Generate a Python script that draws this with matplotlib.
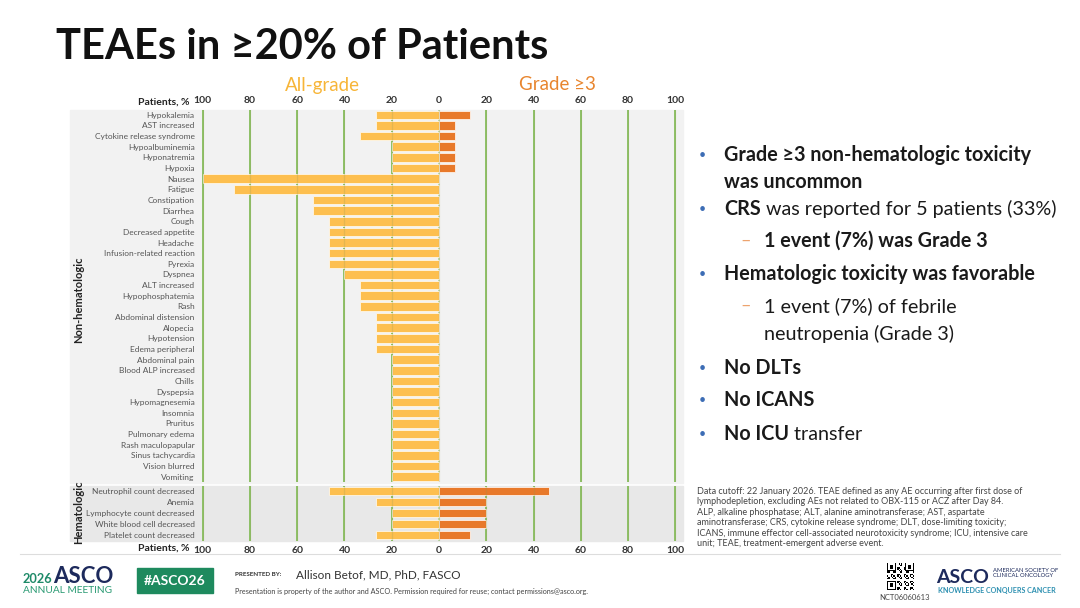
import matplotlib
matplotlib.use("Agg")
import matplotlib.pyplot as plt
from matplotlib.patches import Rectangle
import numpy as np

plt.rcParams['font.family'] = ['Lato', 'DejaVu Sans']

# ---- data (percent of patients, N=15) ----
nonhem_terms = ['Hypokalemia', 'AST increased', 'Cytokine release syndrome', 'Hypoalbuminemia',
                'Hyponatremia', 'Hypoxia', 'Nausea', 'Fatigue', 'Constipation', 'Diarrhea',
                'Cough', 'Decreased appetite', 'Headache', 'Infusion-related reaction', 'Pyrexia',
                'Dyspnea', 'ALT increased', 'Hypophosphatemia', 'Rash', 'Abdominal distension',
                'Alopecia', 'Hypotension', 'Edema peripheral', 'Abdominal pain',
                'Blood ALP increased', 'Chills', 'Dyspepsia', 'Hypomagnesemia', 'Insomnia',
                'Pruritus', 'Pulmonary edema', 'Rash maculopapular', 'Sinus tachycardia',
                'Vision blurred', 'Vomiting']
nonhem_all = [26.7, 26.7, 33.3, 20, 20, 20, 100, 86.7, 53.3, 53.3,
              46.7, 46.7, 46.7, 46.7, 46.7, 40, 33.3, 33.3, 33.3, 26.7,
              26.7, 26.7, 26.7, 20, 20, 20, 20, 20, 20, 20, 20, 20, 20, 20, 20]
nonhem_g3 = [13.3, 6.7, 6.7, 6.7, 6.7, 6.7, 0, 0, 0, 0,
             0, 0, 0, 0, 0, 0, 0, 0, 0, 0,
             0, 0, 0, 0, 0, 0, 0, 0, 0, 0, 0, 0, 0, 0, 0]

hem_terms = ['Neutrophil count decreased', 'Anemia', 'Lymphocyte count decreased',
             'White blood cell decreased', 'Platelet count decreased']
hem_all = [46.7, 26.7, 20, 20, 26.7]
hem_g3 = [46.7, 20, 20, 20, 13.3]

tick_vals = [-100, -80, -60, -40, -20, 0, 20, 40, 60, 80, 100]

YELLOW = '#FDBF4F'
ORANGE = '#E8792A'
GREEN = '#86BE5C'
W, H = 1080, 608


def fx(x):
    return x / W


def fy(y):
    return 1 - y / H


fig = plt.figure(figsize=(10.8, 6.08), dpi=100)
fig.patch.set_facecolor('white')

# panel backgrounds (behind the axes)
fig.patches.append(Rectangle((fx(70), fy(483)), fx(683) - fx(70), fy(110) - fy(483),
                             transform=fig.transFigure, color='#F2F2F2', zorder=-5))
fig.patches.append(Rectangle((fx(70), fy(541)), fx(683) - fx(70), fy(486) - fy(541),
                             transform=fig.transFigure, color='#E8E8E8', zorder=-5))

# x from -102 to 102 so that the outer gridlines are not clipped
left = fx(198)
width = fx(680) - left
ax1 = fig.add_axes([left, fy(482), width, fy(109.5) - fy(482)])
ax2 = fig.add_axes([left, fy(540.5), width, fy(485.5) - fy(540.5)])

for ax, terms, a, g in [(ax1, nonhem_terms, nonhem_all, nonhem_g3),
                        (ax2, hem_terms, hem_all, hem_g3)]:
    ax.set_facecolor('none')
    y = np.arange(len(terms))
    for t in tick_vals:
        ax.axvline(t, color=GREEN if t != 0 else '#B9D7A3', lw=1.3, zorder=1)
        # faint line showing through the bars
        ax.axvline(t, color='#8A9A50', lw=0.9, alpha=0.22, zorder=3)
    ax.barh(y, -np.array(a), height=0.8, color=YELLOW, edgecolor='#FFF6E6', lw=0.6, zorder=2)
    ax.barh(y, g, height=0.8, color=ORANGE, edgecolor='#FFF0E6', lw=0.6, zorder=2)
    ax.set_xlim(-102, 102)
    ax.set_ylim(len(terms) - 0.5, -0.5)
    ax.set_yticks(y)
    ax.set_yticklabels(terms, fontsize=6.0, color='#555555')
    ax.set_xticks(tick_vals)
    ax.set_xticklabels([str(abs(t)) for t in tick_vals], fontsize=7.5,
                       fontweight='bold', color='#333333')
    ax.tick_params(length=0, pad=4)
    ax.tick_params(axis='y', pad=2.5)
    for s in ax.spines.values():
        s.set_visible(False)

ax1.xaxis.tick_top()
ax1.tick_params(axis='x', pad=3)

# axis captions
for yy in (102, 548):
    fig.text(fx(189), fy(yy), 'Patients, %', ha='right', va='center', fontsize=7.5,
             fontweight='bold', color='#222222')

fig.text(fx(79), fy(300), 'Non-hematologic', rotation=90, ha='center', va='center',
         fontsize=8, fontweight='bold', color='#222222')
fig.text(fx(79), fy(512), 'Hematologic', rotation=90, ha='center', va='center',
         fontsize=8, fontweight='bold', color='#222222')

# headers
fig.text(fx(322), fy(85), 'All-grade', ha='center', va='center', fontsize=13.5,
         color='#F7B538')
fig.text(fx(557), fy(85), 'Grade ≥3', ha='center', va='center', fontsize=13.5,
         color='#E8852E')

# title
fig.text(fx(56), fy(47), 'TEAEs in ≥20% of Patients', ha='left', va='center',
         fontsize=30, fontweight='bold', color='#111111')

# bullet text
BLUE = '#3D6DB5'
tsize = 14.2


def bullet(y, parts, x=724, dot=True, dash=False):
    if dot:
        fig.text(fx(702), fy(y), '•', ha='center', va='center', fontsize=9, color=BLUE)
    if dash:
        fig.text(fx(746), fy(y), '–', ha='center', va='center', fontsize=13, color='#EDA36E')
    xx = x
    for txt, bold in parts:
        t = fig.text(fx(xx), fy(y), txt, ha='left', va='center', fontsize=tsize,
                     fontweight='bold' if bold else 'normal', color='#1a1a1a')
        fig.canvas.draw()
        xx += t.get_window_extent().width


bullet(155, [('Grade ≥3 non-hematologic toxicity', True)])
bullet(182, [('was uncommon', True)], dot=False)
bullet(209, [('CRS', True), (' was reported for 5 patients (33%)', False)])
bullet(241, [('1 event (7%) was Grade 3', True)], x=764, dot=False, dash=True)
bullet(274, [('Hematologic toxicity was favorable', True)])
bullet(306, [('1 event (7%) of febrile', False)], x=764, dot=False, dash=True)
bullet(334, [('neutropenia (Grade 3)', False)], x=764, dot=False)
bullet(368, [('No DLTs', True)])
bullet(400, [('No ICANS', True)])
bullet(434, [('No ICU', True), (' transfer', False)])

foot = ("Data cutoff: 22 January 2026. TEAE defined as any AE occurring after first dose of\n"
        "lymphodepletion, excluding AEs not related to OBX-115 or ACZ after Day 84.\n"
        "ALP, alkaline phosphatase; ALT, alanine aminotransferase; AST, aspartate\n"
        "aminotransferase; CRS, cytokine release syndrome; DLT, dose-limiting toxicity;\n"
        "ICANS, immune effector cell-associated neurotoxicity syndrome; ICU, intensive care\n"
        "unit; TEAE, treatment-emergent adverse event.")
fig.text(fx(697), fy(487), foot, ha='left', va='top', fontsize=6.5, color='#444444',
         linespacing=1.2)

# footer
fig.add_artist(plt.Line2D([fx(20), fx(1060)], [fy(554), fy(554)], color='#DDDDDD', lw=0.8,
                          transform=fig.transFigure))
fig.text(fx(23), fy(583), '2026', ha='left', va='baseline', fontsize=9.2, fontweight='bold',
         color='#1E8A68')
fig.text(fx(53), fy(583), 'ASCO', ha='left', va='baseline', fontsize=16, fontweight='bold',
         color='#1D2A5C')
fig.text(fx(23), fy(593), 'ANNUAL MEETING', ha='left', va='baseline', fontsize=7.3,
         color='#2A9A73')
fig.patches.append(Rectangle((fx(137), fy(593)), fx(213) - fx(137), fy(568) - fy(593),
                             transform=fig.transFigure, color='#1E8A5E', zorder=-5))
fig.text(fx(175), fy(581), '#ASCO26', ha='center', va='center', fontsize=10,
         fontweight='bold', color='white')
fig.text(fx(235), fy(575), 'PRESENTED BY:', ha='left', va='center', fontsize=4.5,
         fontweight='bold', color='#333333')
fig.text(fx(296), fy(575), 'Allison Betof, MD, PhD, FASCO', ha='left', va='center',
         fontsize=8.5, color='#333333')
fig.text(fx(235), fy(591), 'Presentation is property of the author and ASCO. Permission '
         'required for reuse; contact permissions@asco.org.', ha='left', va='center',
         fontsize=5.2, color='#444444')

# QR placeholder
qr_ax = fig.add_axes([fx(887), fy(590), fx(914) - fx(887), fy(562) - fy(590)])
ii, jj = np.meshgrid(np.arange(21), np.arange(21))
qr = ((ii * 7 + jj * 3 + ii * jj) % 5 < 2).astype(float)
for (r, c) in [(0, 0), (0, 14), (14, 0)]:
    qr[r:r + 7, c:c + 7] = 1
    qr[r + 1:r + 6, c + 1:c + 6] = 0
    qr[r + 2:r + 5, c + 2:c + 5] = 1
qr_ax.imshow(qr, cmap='Greys', interpolation='nearest')
qr_ax.axis('off')
fig.text(fx(905), fy(598), 'NCT06060613', ha='center', va='center', fontsize=5.5,
         color='#444444')
fig.text(fx(936), fy(583), 'ASCO', ha='left', va='baseline', fontsize=14, fontweight='bold',
         color='#1D2A5C')
fig.text(fx(993), fy(573), 'AMERICAN SOCIETY OF\nCLINICAL ONCOLOGY', ha='left', va='center',
         fontsize=4.2, color='#1D2A5C', linespacing=1.1)
fig.text(fx(938), fy(590), 'KNOWLEDGE CONQUERS CANCER', ha='left', va='center', fontsize=5.1,
         fontweight='bold', color='#2B8FB0')

fig.savefig('out.png', dpi=100, facecolor='white')
